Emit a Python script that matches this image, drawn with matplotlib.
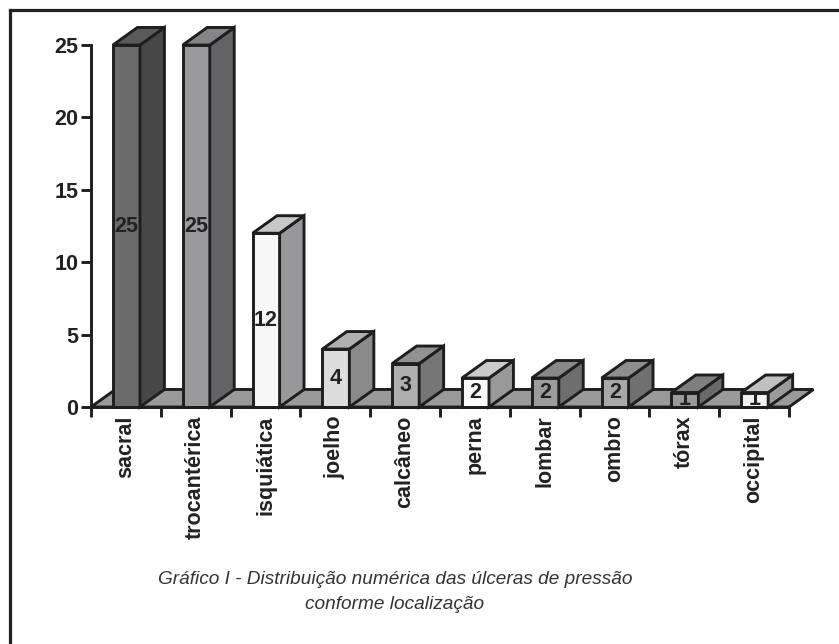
import numpy as np
import matplotlib.pyplot as plt
from matplotlib.patches import Polygon

plt.rcParams['font.family'] = ['Liberation Sans', 'DejaVu Sans']

# data
categories = ['sacral', 'trocantérica', 'isquiática', 'joelho', 'calcâneo',
              'perna', 'lombar', 'ombro', 'tórax', 'occipital']
values = [25, 25, 12, 4, 3, 2, 2, 2, 1, 1]
front_colors = ['#6b6b6b', '#9a9a9c', '#f7f7f7', '#dcdcdc', '#aeaeae',
                '#fbfbfb', '#9c9c9c', '#a8a8a8', '#9a9a9a', '#f2f2f2']
top_colors = ['#5a5a5a', '#858587', '#c8c8c8', '#b0b0b0', '#929292',
              '#cacaca', '#888888', '#8e8e8e', '#7e7e7e', '#c0c0c0']
side_colors = ['#474747', '#636365', '#98989a', '#8a8a8a', '#767676',
               '#999999', '#6e6e6e', '#707070', '#6a6a6a', '#9a9a9a']
yticks = [0, 5, 10, 15, 20, 25]
caption = 'Gráfico I - Distribuição numérica das úlceras de pressão\nconforme localização'

# geometry (pixel scale -> data units)
W, H = 839, 644
X0_PX, Y0_PX = 91, 407
PX_X, PX_Y = 69.8, 14.48
BAR_OFF, BAR_W = 0.315, 0.387
DX, DY = 0.35, 1.21
EDGE = '#1e1e1e'
LW = 2.1
FS = 15.5


def main() -> None:
    fig = plt.figure(figsize=(W / 100, H / 100), dpi=100)
    ax = fig.add_axes([0, 0, 1, 1])
    ax.set_xlim(-X0_PX / PX_X, (W - X0_PX) / PX_X)
    ax.set_ylim(-(H - Y0_PX) / PX_Y, Y0_PX / PX_Y)

    n = len(categories)

    # floor
    floor = Polygon([(0, 0), (n, 0), (n + DX, DY), (DX, DY)], closed=True,
                    facecolor='#9a9a9a', edgecolor=EDGE, lw=LW, zorder=1)
    ax.add_patch(floor)

    for i, v in enumerate(values):
        x0 = i + BAR_OFF
        x1 = x0 + BAR_W
        front = Polygon([(x0, 0), (x1, 0), (x1, v), (x0, v)], closed=True,
                        facecolor=front_colors[i], edgecolor=EDGE, lw=LW, zorder=2)
        side = Polygon([(x1, 0), (x1 + DX, DY), (x1 + DX, v + DY), (x1, v)], closed=True,
                       facecolor=side_colors[i], edgecolor=EDGE, lw=LW, zorder=2)
        top = Polygon([(x0, v), (x1, v), (x1 + DX, v + DY), (x0 + DX, v + DY)], closed=True,
                      facecolor=top_colors[i], edgecolor=EDGE, lw=LW, zorder=4)
        for p in (front, side, top):
            ax.add_patch(p)
        ax.text(x0 + BAR_W / 2, v / 2, str(v), ha='center', va='center',
                fontsize=FS, fontweight='bold', color='#222222', zorder=3)

    # axes
    for s in ('top', 'right'):
        ax.spines[s].set_visible(False)
    ax.spines['left'].set_position(('data', 0))
    ax.spines['left'].set_bounds(0, 25)
    ax.spines['bottom'].set_position(('data', 0))
    ax.spines['bottom'].set_bounds(0, n)
    for s in ('left', 'bottom'):
        ax.spines[s].set_linewidth(LW)
        ax.spines[s].set_color(EDGE)
        ax.spines[s].set_zorder(5)

    ax.set_yticks(yticks)
    ax.set_yticklabels([str(t) for t in yticks], fontsize=FS, fontweight='bold', color='#222222')
    ax.tick_params(axis='y', direction='out', length=7, width=LW, color=EDGE, pad=2)

    ax.set_xticks(np.arange(n + 1))
    ax.set_xticklabels([])
    ax.set_xticks(np.arange(n) + 0.5, minor=True)
    ax.set_xticklabels(categories, minor=True, rotation=90, fontsize=FS,
                       fontweight='bold', color='#222222', va='top')
    ax.tick_params(axis='x', which='major', direction='out', length=7, width=LW, color=EDGE)
    ax.tick_params(axis='x', which='minor', length=0, pad=6)

    # caption
    fig.text(395 / W, 1 - 592 / H, caption, ha='center', va='center', fontsize=13.7,
             style='italic', color='#333333', linespacing=1.55)

    # frame: top and left lines
    fig.add_artist(plt.Line2D([9.5 / W, 1], [1 - 9.5 / H, 1 - 9.5 / H], color='#222222', lw=2.3))
    fig.add_artist(plt.Line2D([9.5 / W, 9.5 / W], [0, 1 - 9.5 / H], color='#222222', lw=2.3))

    fig.savefig('out.png', dpi=100)


if __name__ == '__main__':
    main()
